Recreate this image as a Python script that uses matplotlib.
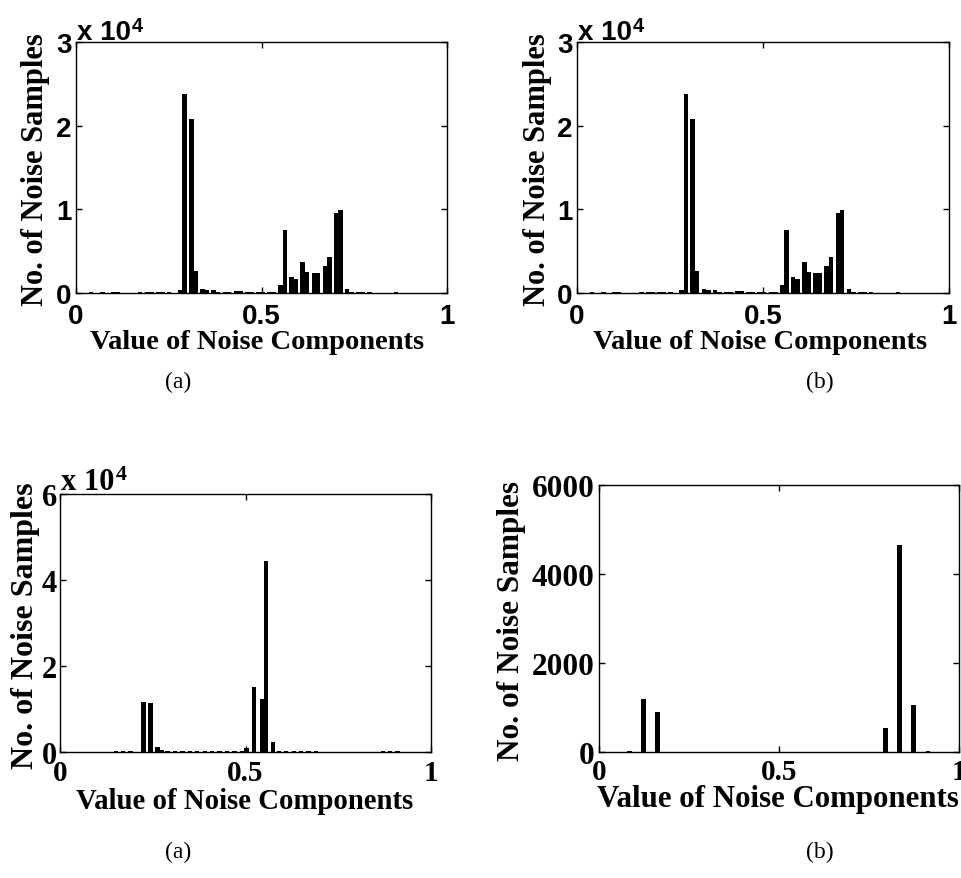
import matplotlib
matplotlib.use('Agg')
import matplotlib.pyplot as plt
import numpy as np

# top row (a) and (b) show the same histogram: 33 bins, two bars per bin
top_bins = np.round(np.linspace(0.017, 0.977, 33), 3)
top_left = [0, 80, 70, 80, 0, 0, 60, 60, 80, 360, 20780, 450, 300, 150, 250, 150, 100,
            60, 1000, 1880, 3720, 2360, 3200, 9570, 440, 80, 60, 0, 0, 0, 0, 0, 0]
top_right = [50, 0, 0, 80, 0, 70, 60, 80, 0, 23830, 2680, 400, 150, 100, 280, 100, 60,
             60, 7570, 1680, 2520, 2360, 4320, 9970, 120, 80, 0, 0, 60, 0, 0, 0, 0]
top_yticks = [0, 10000, 20000, 30000]
top_ylabels = ['0', '1', '2', '3']

# bottom (a)
bl_x = [0.150, 0.170, 0.190, 0.225, 0.244, 0.263, 0.275, 0.290, 0.310, 0.330, 0.350,
        0.370, 0.390, 0.410, 0.430, 0.450, 0.470, 0.490, 0.503, 0.523, 0.545, 0.556,
        0.574, 0.590, 0.610, 0.630, 0.650, 0.670, 0.690, 0.870, 0.890, 0.910]
bl_y = [150, 150, 150, 11650, 11330, 1240, 500, 150, 150, 150, 150,
        150, 150, 150, 150, 150, 150, 150, 1000, 15100, 12300, 44500,
        2300, 150, 150, 150, 150, 150, 150, 150, 150, 150]
bl_yticks = [0, 20000, 40000, 60000]
bl_ylabels = ['0', '2', '4', '6']

# bottom (b): 26 bins
br_bins = np.round(np.linspace(0.005, 0.9925, 26), 4)
br_y = [5, 6, 20, 1180, 890, 6, 5, 6, 0, 0, 0, 0, 0, 0,
        5, 6, 5, 6, 5, 6, 530, 4650, 1060, 20, 6, 0]
br_yticks = [0, 2000, 4000, 6000]

W, H = 961, 879
fig = plt.figure(figsize=(W / 100, H / 100), dpi=100)


def box(l, t, r, b):
    return fig.add_axes([l / W, 1 - b / H, (r - l) / W, (b - t) / H])


def style(ax, fam, xsize, ysize, xpad, ypad):
    ax.set_xlim(0, 1)
    ax.set_xticks([0, 0.5, 1])
    ax.set_xticklabels(['0', '0.5', '1'])
    ax.tick_params(direction='in', top=True, right=True, length=4, width=1)
    ax.tick_params(axis='x', pad=xpad, labelsize=xsize)
    ax.tick_params(axis='y', pad=ypad, labelsize=ysize)
    for lab in ax.get_xticklabels() + ax.get_yticklabels():
        lab.set_family(fam)
        lab.set_weight('bold')
    for s in ax.spines.values():
        s.set_linewidth(1.0)


def label(x, y, s, size, rot=0, weight='bold'):
    fig.text(x / W, 1 - y / H, s, ha='center', va='center', rotation=rot,
             family='Liberation Serif', weight=weight, fontsize=size)


def power(ax, fam, size, dy):
    t = ax.annotate('x 10', xy=(0, 1), xycoords='axes fraction', xytext=(0.5, dy),
                    textcoords='offset points', ha='left', va='baseline',
                    family=fam, weight='bold', fontsize=size)
    ax.annotate('4', xy=(1, 1), xycoords=t, xytext=(1, 2), textcoords='offset points',
                ha='left', va='top', family=fam, weight='bold', fontsize=size * 0.72)


w = 0.012
for l, r, cx in [(76, 447, 257), (577, 949, 760)]:
    ax = box(l, 43, r, 294)
    ax.bar(top_bins - w / 2, top_left, w, color='k', linewidth=0)
    ax.bar(top_bins + w / 2, top_right, w, color='k', linewidth=0)
    ax.set_ylim(0, 30000)
    ax.set_yticks(top_yticks)
    ax.set_yticklabels(top_ylabels)
    style(ax, 'Liberation Sans', 20, 20, 7.5, 3)
    power(ax, 'Liberation Sans', 20, 2.2)
    label(l - 40, 170, 'No. of Noise Samples', 22, rot=90)
    label(cx, 343, 'Value of Noise Components', 20.5)

label(178, 382, '(a)', 17, weight='normal')
label(820, 382, '(b)', 17, weight='normal')

ax = box(60, 495, 431, 753)
ax.bar(bl_x, bl_y, 0.0115, color='k', linewidth=0)
ax.set_ylim(0, 60000)
ax.set_yticks(bl_yticks)
ax.set_yticklabels(bl_ylabels)
style(ax, 'Liberation Serif', 21, 22, 5, 2)
power(ax, 'Liberation Serif', 22, 3.5)
label(26, 626, 'No. of Noise Samples', 23, rot=90)
label(245, 802, 'Value of Noise Components', 20.7)

ax = box(599, 486, 959, 753)
ax.bar(br_bins, br_y, 0.013, color='k', linewidth=0)
ax.set_ylim(0, 6000)
ax.set_yticks(br_yticks)
style(ax, 'Liberation Serif', 21, 22.5, 4.5, 3)
label(512, 621, 'No. of Noise Samples', 22.5, rot=90)
label(778, 800, 'Value of Noise Components', 22.2)

label(178, 852, '(a)', 17, weight='normal')
label(820, 852, '(b)', 17, weight='normal')

fig.savefig('out.png', dpi=100)
